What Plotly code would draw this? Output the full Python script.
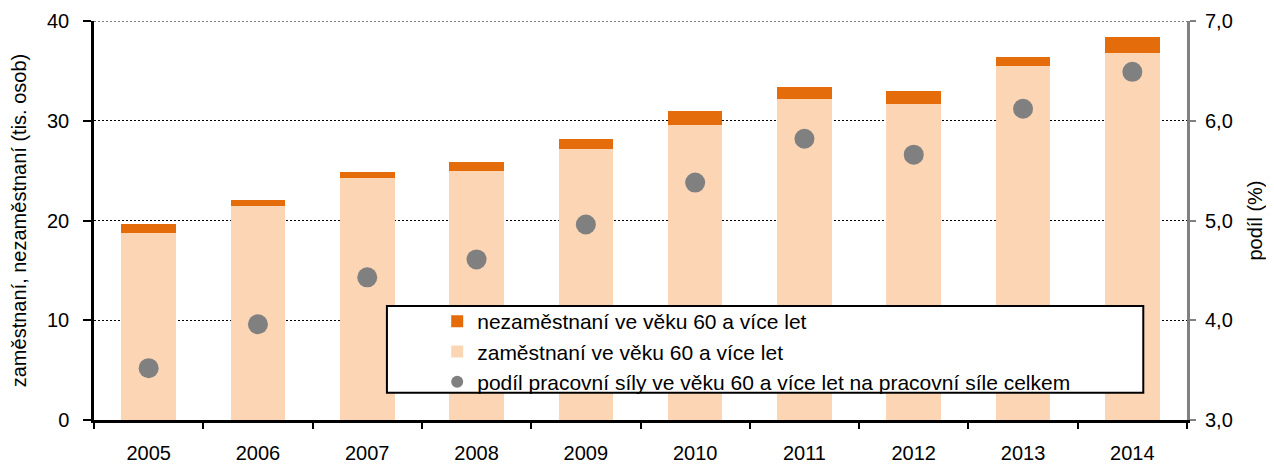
import plotly.graph_objects as go

years = ["2005", "2006", "2007", "2008", "2009", "2010", "2011", "2012", "2013", "2014"]
employed = [18.7, 21.45, 24.25, 24.95, 27.15, 29.6, 32.2, 31.7, 35.5, 36.8]
unemployed = [0.95, 0.6, 0.6, 0.9, 1.0, 1.4, 1.2, 1.3, 0.9, 1.6]
share = [3.52, 3.96, 4.43, 4.61, 4.96, 5.38, 5.82, 5.66, 6.12, 6.49]

name_unemp = "nezaměstnaní ve věku 60 a více let"
name_emp = "zaměstnaní ve věku 60 a více let"
name_share = "podíl pracovní síly ve věku 60 a více let na pracovní síle celkem"

FONT = "Liberation Sans, Arial, sans-serif"

fig = go.Figure()
fig.add_trace(go.Bar(x=years, y=employed, name=name_emp, marker_color="#FCD5B5",
                     marker_line_width=0, legendrank=2, legendgroup="b", yaxis="y"))
fig.add_trace(go.Bar(x=years, y=unemployed, name=name_unemp, marker_color="#E46C0A",
                     marker_line_width=0, legendrank=1, legendgroup="a", yaxis="y"))
fig.add_trace(go.Scatter(x=years, y=share, name=name_share, mode="markers",
                         marker=dict(color="#808080", size=20), legendrank=3,
                         legendgroup="c", yaxis="y2"))

# legend frame
fig.add_shape(type="rect", xref="paper", yref="paper", x0=0.268, x1=0.960, y0=0.068, y1=0.286,
              line=dict(color="black", width=2), fillcolor="white", layer="above")
# top dotted gridline at 40
fig.add_shape(type="line", xref="paper", yref="y", x0=0, x1=1, y0=40, y1=40,
              line=dict(color="black", width=1, dash="2px,2px"), layer="below")

fig.update_layout(
    width=1258, height=457,
    margin=dict(l=86, r=79, t=13, b=45, autoexpand=False),
    paper_bgcolor="white", plot_bgcolor="white",
    barmode="stack", bargap=0.5,
    separators=",.",
    font=dict(family=FONT, size=20, color="black"),
    showlegend=True,
    legend=dict(x=0.314, y=0.298, xanchor="left", yanchor="top", bgcolor="rgba(0,0,0,0)",
                borderwidth=0, font=dict(size=21, family=FONT), tracegroupgap=0,
                itemsizing="constant"),
    xaxis=dict(type="category", range=[-0.5, 9.5], showline=True, linecolor="black", linewidth=2.5,
               ticks="outside", tickson="boundaries", ticklen=6, tickwidth=2, tickcolor="black",
               ticklabelstandoff=13, tickfont=dict(size=20), showgrid=False, automargin=False),
    yaxis=dict(range=[0, 40], dtick=10, showline=True, linecolor="black", linewidth=2.5,
               ticks="outside", ticklen=8, tickwidth=2, tickcolor="black", showgrid=True,
               gridcolor="black", griddash="2px,2px", gridwidth=1, zeroline=False,
               ticklabelstandoff=10, tickfont=dict(size=20), automargin=False,
               title=dict(text="zaměstnaní, nezaměstnaní (tis. osob)", font=dict(size=20), standoff=20)),
    yaxis2=dict(range=[3, 7], dtick=1, tickformat=".1f", overlaying="y", side="right",
                showline=True, linecolor="#808080", linewidth=3, ticks="outside", ticklen=6,
                tickwidth=2, tickcolor="#808080", showgrid=False, zeroline=False,
                ticklabelstandoff=5, tickfont=dict(size=20), automargin=False,
                title=dict(text="podíl (%)", font=dict(size=20), standoff=28)),
)

fig.write_html("out.html")
